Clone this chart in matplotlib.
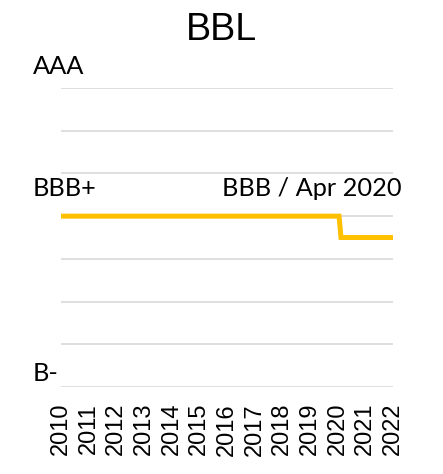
import matplotlib
matplotlib.use("Agg")
import matplotlib.pyplot as plt

# Data
years = list(range(2010, 2023))
year_labels = [str(y) for y in years]
# rating timeline (fractional year, rating level on notch-like scale; 0 = AAA top)
rating_dates = [2010.0, 2020.05, 2020.12, 2022.0]
rating_levels = [3.0, 3.0, 3.5, 3.5]
grid_levels = [0, 1, 2, 3, 4, 5, 6, 7]
scale_labels = ["AAA", "BBB+", "B-"]
annotation_text = "BBB / Apr 2020"

DPI = 100
fig = plt.figure(figsize=(4.43, 4.74), dpi=DPI)
ax = fig.add_axes([61/443, 1-387/474, (393-61)/443, (387-88)/474])

ax.plot(rating_dates, rating_levels, color="#FFC000", lw=3.6,
        solid_capstyle="round", solid_joinstyle="miter", zorder=3)

ax.set_xlim(years[0], years[-1])
ax.set_ylim(grid_levels[-1], grid_levels[0])
ax.set_yticks(grid_levels)
ax.set_yticklabels([])
ax.yaxis.grid(True, color="#D9D9D9", lw=1.2)
ax.set_xticks(years)
ax.set_xticklabels(year_labels, rotation=90, fontsize=17,
                   family="Liberation Sans", va="top")
ax.tick_params(axis="both", length=0, pad=11.5)
for s in ax.spines.values():
    s.set_visible(False)

lab_font = dict(family="Lato", fontsize=18.3, color="black")
# left-side scale labels (pixel positions from figure top -> baseline)
label_baselines = [74, 196, 381]
for lab, yb in zip(scale_labels, label_baselines):
    fig.text(33/443, 1-yb/474, lab, ha="left", va="baseline", **lab_font)
fig.text(402/443, 1-196/474, annotation_text, ha="right", va="baseline", **lab_font)

fig.text(0.5, 1-40/474, "BBL", ha="center", va="baseline",
         family="Liberation Sans", fontsize=27)

fig.savefig("out.png", dpi=DPI)
